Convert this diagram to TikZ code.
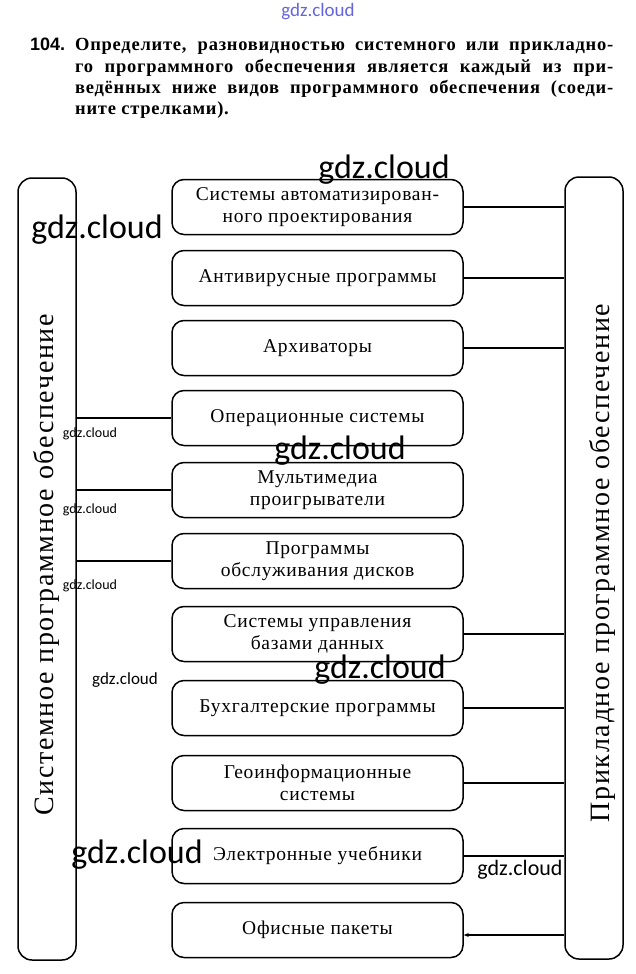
\documentclass[tikz,border=0pt]{standalone}
\usepackage{fontspec}
\setmainfont{Liberation Serif}
\newfontfamily\wm{Carlito}
\newfontfamily\boxfont[LetterSpace=4]{Liberation Serif}
\newfontfamily\headfont[LetterSpace=4]{Liberation Serif}
\newfontfamily\numfont{Liberation Sans}
\newfontfamily\sidefont[LetterSpace=6]{Liberation Serif}
\usetikzlibrary{arrows.meta}
\definecolor{wmblue}{RGB}{100,100,225}
\begin{document}
\begin{tikzpicture}[x=1pt,y=-1pt,
  mbox/.style={draw,line width=1.5pt,rounded corners=12pt,minimum width=291pt,minimum height=55pt,align=center,inner sep=0pt,font=\boxfont\fontsize{19.5}{22}\selectfont},
  sidebox/.style={draw,line width=1.5pt,rounded corners=14pt,minimum width=58pt,minimum height=782pt,inner sep=0pt},
  sidetext/.style={rotate=90,inner sep=0pt,font=\sidefont\fontsize{28}{28}\selectfont},
  conn/.style={line width=1.6pt},
  headline/.style={anchor=base west,inner sep=0pt,font=\headfont\bfseries\fontsize{18.5}{21}\selectfont},
  wmbig/.style={inner sep=0pt,font=\wm\fontsize{34}{34}\selectfont},
  wmsmall/.style={inner sep=0pt,font=\wm\fontsize{14}{14}\selectfont}]
\useasboundingbox[fill=white] (0,0) rectangle (636,974);

% heading
\node[wmsmall,text=wmblue,font=\wm\fontsize{19}{19}\selectfont] (wtop) at (318,12) {gdz.cloud};
\node[anchor=base west,inner sep=0pt,font=\numfont\bfseries\fontsize{18}{21}\selectfont] (num) at (30,51) {104.};
\node[headline] (h1) at (75,51) {\makebox[538pt][s]{Определите, разновидностью системного или прикладно-}};
\node[headline] (h2) at (75,72) {\makebox[538pt][s]{го программного обеспечения является каждый из при-}};
\node[headline] (h3) at (75,93) {\makebox[538pt][s]{ведённых ниже видов программного обеспечения (соеди-}};
\node[headline] (h4) at (75,114) {ните стрелками).};

% side boxes
\node[sidebox] (L) at (47,569) {};
\node[sidebox] (R) at (594,568) {};
\node[sidetext] (Lt) at (46,565) {Системное программное обеспечение};
\node[sidetext] (Rt) at (602,563) {Прикладное программное обеспечение};

% middle boxes
\node[mbox] (b1) at (317.5,207) {Системы автоматизирован-\\ного проектирования};
\node[mbox] (b2) at (317.5,278) {Антивирусные программы};
\node[mbox] (b3) at (317.5,348) {Архиваторы};
\node[mbox] (b4) at (317.5,418) {Операционные системы};
\node[mbox] (b5) at (317.5,490) {Мультимедиа\\проигрыватели};
\node[mbox] (b6) at (317.5,561) {Программы\\обслуживания дисков};
\node[mbox] (b7) at (317.5,634) {Системы управления\\базами данных};
\node[mbox] (b8) at (317.5,708) {Бухгалтерские программы};
\node[mbox] (b9) at (317.5,783) {Геоинформационные\\системы};
\node[mbox] (b10) at (317.5,856) {Электронные учебники};
\node[mbox] (b11) at (317.5,930) {Офисные пакеты};

% connectors
\foreach \b in {b1,b2,b3,b7,b8,b9,b10}
  \draw[conn] (\b.east) -- (\b.east -| R.west);
\foreach \b in {b4,b5,b6}
  \draw[conn] (\b.west) -- (\b.west -| L.east);
\draw[conn,-{Stealth[length=5pt,width=4pt]}] ([yshift=-5pt]b11.east -| R.west) -- ([yshift=-5pt]b11.east);

% watermarks
\node[wmbig] (w1) at (384,170) {gdz.cloud};
\node[wmbig] (w2) at (97,230) {gdz.cloud};
\node[wmsmall] (w3) at (90,434) {gdz.cloud};
\node[wmsmall] (w4) at (90,510) {gdz.cloud};
\node[wmsmall] (w5) at (90,586) {gdz.cloud};
\node[wmbig] (w6) at (340,451) {gdz.cloud};
\node[wmsmall,font=\wm\fontsize{17}{17}\selectfont] (w7) at (125,680) {gdz.cloud};
\node[wmbig] (w8) at (380,670) {gdz.cloud};
\node[wmbig] (w9) at (137,855) {gdz.cloud};
\node[wmsmall,font=\wm\fontsize{22}{22}\selectfont] (w10) at (520,870) {gdz.cloud};
\end{tikzpicture}
\end{document}
